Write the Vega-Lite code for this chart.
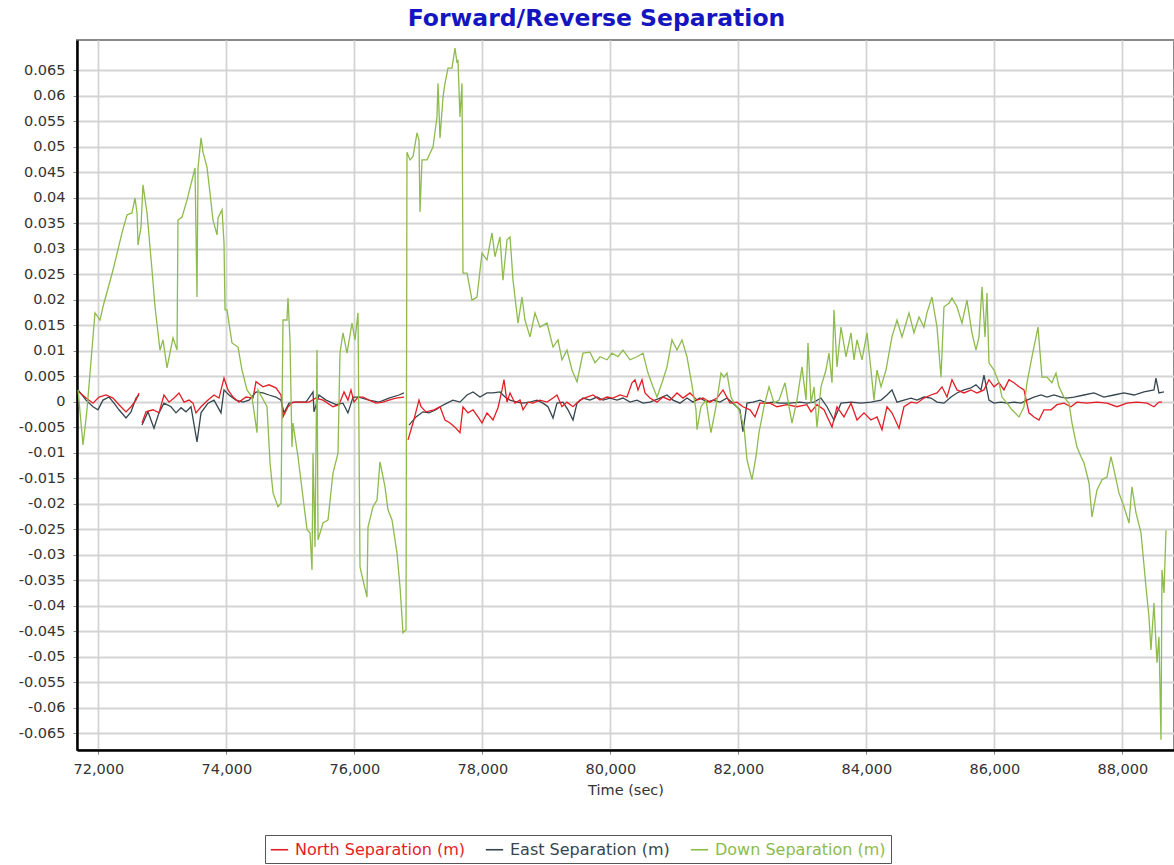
{
  "$schema": "https://vega.github.io/schema/vega-lite/v6.json",
  "width": 1097,
  "height": 710,
  "autosize": {"type": "none"},
  "padding": {"left": 77, "top": 40, "right": 0, "bottom": 115},
  "title": {"text": "Forward/Reverse Separation", "font": "DejaVu Sans", "fontSize": 23.5, "fontWeight": "bold", "color": "#1515c0", "anchor": "middle", "dx": -29, "offset": 10},
  "config": {
    "font": "DejaVu Sans",
    "view": {"stroke": "#8a8a8a", "strokeWidth": 2},
    "axis": {"gridColor": "#d4d4d4", "gridWidth": 1.8, "labelFont": "DejaVu Sans", "labelFontSize": 14.5, "labelColor": "#333333", "domainColor": "#000000", "domainWidth": 2.5, "tickColor": "#888888", "tickSize": 4, "titleFont": "DejaVu Sans", "titleFontSize": 14.5, "titleFontWeight": "normal", "titleColor": "#333333"}
  },
  "datasets": {
    "north": [
      {"t":71698,"v":0.0019,"seg":1},{"t":71808,"v":0.0007,"seg":1},{"t":71917,"v":-0.0003,"seg":1},{"t":72011,"v":0.0009,"seg":1},{"t":72120,"v":0.0013,"seg":1},{"t":72230,"v":0.0007,"seg":1},{"t":72323,"v":-0.0006,"seg":1},{"t":72433,"v":-0.0020,"seg":1},{"t":72511,"v":-0.0010,"seg":1},{"t":72589,"v":0.0003,"seg":1},{"t":72636,"v":0.0017,"seg":1},
      {"t":72683,"v":-0.0042,"seg":2},{"t":72745,"v":-0.0020,"seg":2},{"t":72855,"v":-0.0016,"seg":2},{"t":72948,"v":-0.0022,"seg":2},{"t":73026,"v":0.0013,"seg":2},{"t":73105,"v":-0.0001,"seg":2},{"t":73183,"v":0.0007,"seg":2},{"t":73261,"v":0.0017,"seg":2},{"t":73339,"v":-0.0001,"seg":2},{"t":73417,"v":0.0003,"seg":2},{"t":73480,"v":-0.0003,"seg":2},{"t":73526,"v":-0.0022,"seg":2},{"t":73605,"v":-0.0010,"seg":2},{"t":73714,"v":0.0003,"seg":2},{"t":73808,"v":0.0013,"seg":2},{"t":73886,"v":0.0007,"seg":2},{"t":73964,"v":0.0046,"seg":2},{"t":74026,"v":0.0023,"seg":2},{"t":74105,"v":0.0009,"seg":2},{"t":74198,"v":-0.0001,"seg":2},{"t":74308,"v":0.0009,"seg":2},{"t":74417,"v":0.0007,"seg":2},{"t":74464,"v":0.0039,"seg":2},{"t":74573,"v":0.0029,"seg":2},{"t":74667,"v":0.0033,"seg":2},{"t":74776,"v":0.0027,"seg":2},{"t":74855,"v":0.0013,"seg":2},{"t":74886,"v":-0.0030,"seg":2},{"t":74964,"v":-0.0010,"seg":2},{"t":75042,"v":-0.0001,"seg":2},{"t":75198,"v":-0.0001,"seg":2},{"t":75292,"v":-0.0001,"seg":2},{"t":75401,"v":0.0007,"seg":2},{"t":75511,"v":0.0003,"seg":2},{"t":75667,"v":-0.0010,"seg":2},{"t":75761,"v":-0.0006,"seg":2},{"t":75839,"v":0.0019,"seg":2},{"t":75901,"v":0.0003,"seg":2},{"t":75948,"v":0.0023,"seg":2},{"t":75995,"v":-0.0001,"seg":2},{"t":76058,"v":0.0009,"seg":2},{"t":76136,"v":0.0009,"seg":2},{"t":76230,"v":0.0003,"seg":2},{"t":76339,"v":-0.0003,"seg":2},{"t":76448,"v":-0.0001,"seg":2},{"t":76542,"v":0.0003,"seg":2},{"t":76651,"v":0.0007,"seg":2},{"t":76776,"v":0.0009,"seg":2},
      {"t":76839,"v":-0.0075,"seg":3},{"t":76917,"v":-0.0042,"seg":3},{"t":77011,"v":0.0003,"seg":3},{"t":77042,"v":-0.0010,"seg":3},{"t":77120,"v":-0.0020,"seg":3},{"t":77245,"v":-0.0016,"seg":3},{"t":77339,"v":-0.0010,"seg":3},{"t":77417,"v":-0.0036,"seg":3},{"t":77495,"v":-0.0042,"seg":3},{"t":77573,"v":-0.0050,"seg":3},{"t":77651,"v":-0.0061,"seg":3},{"t":77698,"v":-0.0010,"seg":3},{"t":77776,"v":-0.0022,"seg":3},{"t":77855,"v":-0.0016,"seg":3},{"t":77933,"v":-0.0030,"seg":3},{"t":77995,"v":-0.0042,"seg":3},{"t":78073,"v":-0.0022,"seg":3},{"t":78167,"v":-0.0036,"seg":3},{"t":78245,"v":-0.0012,"seg":3},{"t":78308,"v":0.0023,"seg":3},{"t":78339,"v":0.0043,"seg":3},{"t":78386,"v":-0.0001,"seg":3},{"t":78433,"v":0.0017,"seg":3},{"t":78511,"v":-0.0003,"seg":3},{"t":78589,"v":0.0003,"seg":3},{"t":78636,"v":-0.0016,"seg":3},{"t":78714,"v":-0.0001,"seg":3},{"t":78792,"v":-0.0003,"seg":3},{"t":78901,"v":0.0003,"seg":3},{"t":79011,"v":-0.0001,"seg":3},{"t":79105,"v":0.0007,"seg":3},{"t":79167,"v":0.0013,"seg":3},{"t":79245,"v":-0.0010,"seg":3},{"t":79323,"v":-0.0001,"seg":3},{"t":79417,"v":-0.0010,"seg":3},{"t":79526,"v":0.0003,"seg":3},{"t":79636,"v":0.0009,"seg":3},{"t":79730,"v":0.0013,"seg":3},{"t":79839,"v":0.0003,"seg":3},{"t":79948,"v":0.0009,"seg":3},{"t":80042,"v":0.0007,"seg":3},{"t":80151,"v":0.0013,"seg":3},{"t":80261,"v":0.0009,"seg":3},{"t":80339,"v":0.0037,"seg":3},{"t":80386,"v":0.0043,"seg":3},{"t":80433,"v":0.0023,"seg":3},{"t":80495,"v":0.0043,"seg":3},{"t":80542,"v":0.0017,"seg":3},{"t":80620,"v":0.0007,"seg":3},{"t":80730,"v":-0.0001,"seg":3},{"t":80823,"v":0.0009,"seg":3},{"t":80933,"v":0.0003,"seg":3},{"t":81042,"v":0.0017,"seg":3},{"t":81136,"v":0.0007,"seg":3},{"t":81245,"v":0.0017,"seg":3},{"t":81355,"v":0.0003,"seg":3},{"t":81448,"v":0.0007,"seg":3},{"t":81558,"v":-0.0001,"seg":3},{"t":81667,"v":0.0007,"seg":3},{"t":81761,"v":0.0023,"seg":3},{"t":81870,"v":-0.0003,"seg":3},{"t":81980,"v":-0.0001,"seg":3},{"t":82073,"v":-0.0010,"seg":3},{"t":82183,"v":-0.0016,"seg":3},{"t":82261,"v":-0.0030,"seg":3},{"t":82339,"v":-0.0003,"seg":3},{"t":82495,"v":-0.0003,"seg":3},{"t":82605,"v":-0.0010,"seg":3},{"t":82761,"v":-0.0006,"seg":3},{"t":82917,"v":-0.0010,"seg":3},{"t":83073,"v":-0.0006,"seg":3},{"t":83136,"v":-0.0020,"seg":3},{"t":83230,"v":-0.0006,"seg":3},{"t":83339,"v":-0.0016,"seg":3},{"t":83464,"v":-0.0050,"seg":3},{"t":83542,"v":-0.0010,"seg":3},{"t":83651,"v":-0.0030,"seg":3},{"t":83761,"v":-0.0003,"seg":3},{"t":83855,"v":-0.0036,"seg":3},{"t":83964,"v":-0.0022,"seg":3},{"t":84073,"v":-0.0036,"seg":3},{"t":84167,"v":-0.0030,"seg":3},{"t":84245,"v":-0.0055,"seg":3},{"t":84323,"v":-0.0010,"seg":3},{"t":84401,"v":-0.0022,"seg":3},{"t":84511,"v":-0.0052,"seg":3},{"t":84589,"v":-0.0010,"seg":3},{"t":84698,"v":-0.0001,"seg":3},{"t":84792,"v":-0.0003,"seg":3},{"t":84901,"v":0.0007,"seg":3},{"t":85011,"v":0.0013,"seg":3},{"t":85105,"v":0.0017,"seg":3},{"t":85183,"v":0.0029,"seg":3},{"t":85261,"v":0.0009,"seg":3},{"t":85339,"v":0.0043,"seg":3},{"t":85417,"v":0.0023,"seg":3},{"t":85526,"v":0.0017,"seg":3},{"t":85636,"v":0.0023,"seg":3},{"t":85730,"v":0.0017,"seg":3},{"t":85839,"v":0.0023,"seg":3},{"t":85917,"v":0.0043,"seg":3},{"t":85995,"v":0.0029,"seg":3},{"t":86073,"v":0.0037,"seg":3},{"t":86151,"v":0.0023,"seg":3},{"t":86230,"v":0.0043,"seg":3},{"t":86308,"v":0.0037,"seg":3},{"t":86386,"v":0.0029,"seg":3},{"t":86464,"v":0.0023,"seg":3},{"t":86542,"v":-0.0022,"seg":3},{"t":86620,"v":-0.0030,"seg":3},{"t":86698,"v":-0.0036,"seg":3},{"t":86776,"v":-0.0016,"seg":3},{"t":86886,"v":-0.0016,"seg":3},{"t":86980,"v":-0.0006,"seg":3},{"t":87089,"v":-0.0003,"seg":3},{"t":87198,"v":-0.0010,"seg":3},{"t":87292,"v":-0.0001,"seg":3},{"t":87448,"v":-0.0003,"seg":3},{"t":87605,"v":-0.0001,"seg":3},{"t":87761,"v":-0.0003,"seg":3},{"t":87917,"v":-0.0010,"seg":3},{"t":88073,"v":-0.0003,"seg":3},{"t":88230,"v":-0.0001,"seg":3},{"t":88386,"v":-0.0003,"seg":3},{"t":88495,"v":-0.0010,"seg":3},{"t":88573,"v":-0.0001,"seg":3},{"t":88620,"v":-0.0001,"seg":3}
    ],
    "east": [
      {"t":71683,"v":0.0023,"seg":1},{"t":71808,"v":0.0003,"seg":1},{"t":71917,"v":-0.0010,"seg":1},{"t":71995,"v":-0.0016,"seg":1},{"t":72073,"v":0.0003,"seg":1},{"t":72167,"v":0.0009,"seg":1},{"t":72245,"v":-0.0003,"seg":1},{"t":72323,"v":-0.0016,"seg":1},{"t":72433,"v":-0.0032,"seg":1},{"t":72511,"v":-0.0020,"seg":1},{"t":72589,"v":0.0007,"seg":1},{"t":72636,"v":0.0013,"seg":1},
      {"t":72683,"v":-0.0046,"seg":2},{"t":72776,"v":-0.0020,"seg":2},{"t":72870,"v":-0.0052,"seg":2},{"t":72948,"v":-0.0022,"seg":2},{"t":73026,"v":-0.0003,"seg":2},{"t":73136,"v":-0.0010,"seg":2},{"t":73214,"v":-0.0022,"seg":2},{"t":73292,"v":-0.0012,"seg":2},{"t":73370,"v":-0.0020,"seg":2},{"t":73448,"v":-0.0010,"seg":2},{"t":73542,"v":-0.0079,"seg":2},{"t":73605,"v":-0.0022,"seg":2},{"t":73714,"v":-0.0003,"seg":2},{"t":73808,"v":0.0003,"seg":2},{"t":73917,"v":-0.0022,"seg":2},{"t":73964,"v":0.0023,"seg":2},{"t":74042,"v":0.0013,"seg":2},{"t":74151,"v":0.0003,"seg":2},{"t":74261,"v":-0.0001,"seg":2},{"t":74355,"v":0.0003,"seg":2},{"t":74464,"v":0.0019,"seg":2},{"t":74573,"v":0.0017,"seg":2},{"t":74667,"v":0.0013,"seg":2},{"t":74776,"v":0.0009,"seg":2},{"t":74855,"v":0.0003,"seg":2},{"t":74901,"v":-0.0022,"seg":2},{"t":74980,"v":-0.0003,"seg":2},{"t":75089,"v":-0.0001,"seg":2},{"t":75245,"v":-0.0001,"seg":2},{"t":75355,"v":0.0019,"seg":2},{"t":75370,"v":-0.0020,"seg":2},{"t":75448,"v":0.0013,"seg":2},{"t":75558,"v":0.0003,"seg":2},{"t":75714,"v":-0.0006,"seg":2},{"t":75823,"v":-0.0003,"seg":2},{"t":75901,"v":-0.0022,"seg":2},{"t":75980,"v":0.0009,"seg":2},{"t":76073,"v":0.0009,"seg":2},{"t":76230,"v":0.0003,"seg":2},{"t":76386,"v":-0.0001,"seg":2},{"t":76542,"v":0.0007,"seg":2},{"t":76698,"v":0.0013,"seg":2},{"t":76776,"v":0.0017,"seg":2},
      {"t":76855,"v":-0.0046,"seg":3},{"t":76964,"v":-0.0030,"seg":3},{"t":77073,"v":-0.0020,"seg":3},{"t":77167,"v":-0.0022,"seg":3},{"t":77276,"v":-0.0016,"seg":3},{"t":77355,"v":-0.0009,"seg":3},{"t":77448,"v":-0.0003,"seg":3},{"t":77542,"v":0.0003,"seg":3},{"t":77651,"v":-0.0001,"seg":3},{"t":77761,"v":0.0013,"seg":3},{"t":77855,"v":0.0019,"seg":3},{"t":77964,"v":0.0009,"seg":3},{"t":78073,"v":0.0017,"seg":3},{"t":78167,"v":0.0017,"seg":3},{"t":78276,"v":0.0019,"seg":3},{"t":78355,"v":0.0009,"seg":3},{"t":78433,"v":0.0003,"seg":3},{"t":78542,"v":-0.0001,"seg":3},{"t":78636,"v":-0.0003,"seg":3},{"t":78745,"v":-0.0001,"seg":3},{"t":78855,"v":0.0003,"seg":3},{"t":78948,"v":-0.0003,"seg":3},{"t":79026,"v":-0.0010,"seg":3},{"t":79105,"v":-0.0032,"seg":3},{"t":79167,"v":-0.0003,"seg":3},{"t":79261,"v":-0.0001,"seg":3},{"t":79339,"v":-0.0016,"seg":3},{"t":79417,"v":-0.0036,"seg":3},{"t":79480,"v":-0.0003,"seg":3},{"t":79573,"v":0.0007,"seg":3},{"t":79683,"v":0.0003,"seg":3},{"t":79792,"v":0.0009,"seg":3},{"t":79886,"v":0.0003,"seg":3},{"t":79995,"v":0.0007,"seg":3},{"t":80105,"v":0.0003,"seg":3},{"t":80198,"v":0.0007,"seg":3},{"t":80308,"v":-0.0001,"seg":3},{"t":80417,"v":0.0003,"seg":3},{"t":80511,"v":-0.0003,"seg":3},{"t":80620,"v":-0.0001,"seg":3},{"t":80776,"v":0.0007,"seg":3},{"t":80886,"v":0.0013,"seg":3},{"t":80980,"v":0.0003,"seg":3},{"t":81089,"v":-0.0003,"seg":3},{"t":81198,"v":0.0007,"seg":3},{"t":81292,"v":-0.0001,"seg":3},{"t":81401,"v":0.0007,"seg":3},{"t":81511,"v":-0.0001,"seg":3},{"t":81605,"v":0.0003,"seg":3},{"t":81714,"v":-0.0001,"seg":3},{"t":81823,"v":0.0007,"seg":3},{"t":81917,"v":-0.0003,"seg":3},{"t":82026,"v":-0.0016,"seg":3},{"t":82073,"v":-0.0059,"seg":3},{"t":82136,"v":-0.0003,"seg":3},{"t":82230,"v":-0.0001,"seg":3},{"t":82339,"v":0.0003,"seg":3},{"t":82448,"v":-0.0003,"seg":3},{"t":82542,"v":-0.0001,"seg":3},{"t":82651,"v":-0.0003,"seg":3},{"t":82808,"v":-0.0003,"seg":3},{"t":82964,"v":-0.0001,"seg":3},{"t":83073,"v":-0.0003,"seg":3},{"t":83183,"v":-0.0001,"seg":3},{"t":83292,"v":0.0007,"seg":3},{"t":83386,"v":-0.0010,"seg":3},{"t":83495,"v":-0.0036,"seg":3},{"t":83605,"v":-0.0003,"seg":3},{"t":83761,"v":-0.0001,"seg":3},{"t":83917,"v":-0.0003,"seg":3},{"t":84073,"v":-0.0001,"seg":3},{"t":84230,"v":0.0003,"seg":3},{"t":84323,"v":0.0013,"seg":3},{"t":84401,"v":0.0023,"seg":3},{"t":84480,"v":-0.0001,"seg":3},{"t":84589,"v":0.0003,"seg":3},{"t":84698,"v":0.0007,"seg":3},{"t":84792,"v":0.0003,"seg":3},{"t":84901,"v":0.0009,"seg":3},{"t":85011,"v":0.0007,"seg":3},{"t":85105,"v":-0.0001,"seg":3},{"t":85214,"v":-0.0003,"seg":3},{"t":85323,"v":0.0009,"seg":3},{"t":85417,"v":0.0017,"seg":3},{"t":85526,"v":0.0023,"seg":3},{"t":85636,"v":0.0027,"seg":3},{"t":85714,"v":0.0033,"seg":3},{"t":85792,"v":0.0023,"seg":3},{"t":85839,"v":0.0052,"seg":3},{"t":85917,"v":0.0003,"seg":3},{"t":85995,"v":-0.0003,"seg":3},{"t":86105,"v":-0.0001,"seg":3},{"t":86198,"v":-0.0003,"seg":3},{"t":86308,"v":-0.0001,"seg":3},{"t":86417,"v":-0.0003,"seg":3},{"t":86511,"v":0.0003,"seg":3},{"t":86620,"v":0.0009,"seg":3},{"t":86730,"v":0.0013,"seg":3},{"t":86823,"v":0.0009,"seg":3},{"t":86933,"v":0.0013,"seg":3},{"t":87042,"v":0.0009,"seg":3},{"t":87136,"v":0.0007,"seg":3},{"t":87245,"v":0.0009,"seg":3},{"t":87401,"v":0.0013,"seg":3},{"t":87558,"v":0.0017,"seg":3},{"t":87714,"v":0.0009,"seg":3},{"t":87870,"v":0.0013,"seg":3},{"t":88026,"v":0.0017,"seg":3},{"t":88183,"v":0.0013,"seg":3},{"t":88339,"v":0.0019,"seg":3},{"t":88495,"v":0.0023,"seg":3},{"t":88526,"v":0.0046,"seg":3},{"t":88573,"v":0.0017,"seg":3},{"t":88651,"v":0.0019,"seg":3}
    ],
    "down": [
      {"t":71683,"v":0.0023},{"t":71761,"v":-0.0085},{"t":71823,"v":-0.0016},{"t":71948,"v":0.0174},{"t":72026,"v":0.0160},{"t":72073,"v":0.0186},{"t":72230,"v":0.0258},{"t":72370,"v":0.0331},{"t":72448,"v":0.0366},{"t":72526,"v":0.0370},{"t":72573,"v":0.0399},{"t":72605,"v":0.0370},{"t":72620,"v":0.0307},{"t":72667,"v":0.0342},{"t":72698,"v":0.0425},{"t":72761,"v":0.0370},{"t":72839,"v":0.0258},{"t":72886,"v":0.0186},{"t":72964,"v":0.0101},{"t":73011,"v":0.0121},{"t":73073,"v":0.0066},{"t":73167,"v":0.0125},{"t":73230,"v":0.0101},{"t":73245,"v":0.0356},{"t":73308,"v":0.0362},{"t":73386,"v":0.0395},{"t":73511,"v":0.0458},{"t":73542,"v":0.0205},{"t":73558,"v":0.0458},{"t":73605,"v":0.0517},{"t":73636,"v":0.0489},{"t":73698,"v":0.0460},{"t":73745,"v":0.0409},{"t":73792,"v":0.0356},{"t":73855,"v":0.0327},{"t":73870,"v":0.0360},{"t":73933,"v":0.0376},{"t":73964,"v":0.0311},{"t":73980,"v":0.0180},
      {"t":74011,"v":0.0180},{"t":74089,"v":0.0115},{"t":74183,"v":0.0107},{"t":74245,"v":0.0062},{"t":74323,"v":0.0023},{"t":74401,"v":0.0009},{"t":74480,"v":-0.0061},{"t":74495,"v":0.0023},{"t":74636,"v":-0.0010},{"t":74683,"v":-0.0120},{"t":74730,"v":-0.0179},{"t":74808,"v":-0.0206},{"t":74855,"v":-0.0199},{"t":74886,"v":0.0160},{"t":74948,"v":0.0160},{"t":74964,"v":0.0203},{"t":74995,"v":0.0121},{"t":75026,"v":-0.0089},{"t":75042,"v":-0.0042},{"t":75120,"v":-0.0108},{"t":75198,"v":-0.0187},{"t":75261,"v":-0.0251},{"t":75308,"v":-0.0257},{"t":75339,"v":-0.0330},{"t":75355,"v":-0.0101},{"t":75386,"v":-0.0285},{"t":75417,"v":0.0101},{"t":75433,"v":-0.0271},{"t":75511,"v":-0.0238},{"t":75589,"v":-0.0232},{"t":75667,"v":-0.0140},{"t":75745,"v":-0.0101},{"t":75776,"v":0.0095},{"t":75823,"v":0.0135},{"t":75886,"v":0.0095},{"t":75964,"v":0.0154},{"t":76011,"v":0.0121},{"t":76058,"v":0.0174},{"t":76089,"v":-0.0324},{"t":76136,"v":-0.0350},{"t":76198,"v":-0.0383},{"t":76214,"v":-0.0246},{"t":76292,"v":-0.0206},{"t":76355,"v":-0.0193},{"t":76401,"v":-0.0118},{"t":76480,"v":-0.0167},{"t":76526,"v":-0.0212},{"t":76589,"v":-0.0232},{"t":76667,"v":-0.0297},{"t":76714,"v":-0.0363},{"t":76761,"v":-0.0453},{"t":76808,"v":-0.0447},
      {"t":76823,"v":0.0489},{"t":76870,"v":0.0474},{"t":76917,"v":0.0480},{"t":76980,"v":0.0527},{"t":77011,"v":0.0513},{"t":77026,"v":0.0372},{"t":77058,"v":0.0474},{"t":77136,"v":0.0474},{"t":77183,"v":0.0487},{"t":77230,"v":0.0499},{"t":77292,"v":0.0558},{"t":77308,"v":0.0624},{"t":77339,"v":0.0517},{"t":77386,"v":0.0597},{"t":77417,"v":0.0624},{"t":77464,"v":0.0654},{"t":77526,"v":0.0654},{"t":77573,"v":0.0693},{"t":77605,"v":0.0664},{"t":77620,"v":0.0670},{"t":77651,"v":0.0558},{"t":77683,"v":0.0624},{"t":77698,"v":0.0252},{"t":77761,"v":0.0252},{"t":77839,"v":0.0199},{"t":77917,"v":0.0205},{"t":77995,"v":0.0291},{"t":78073,"v":0.0278},{"t":78151,"v":0.0331},{"t":78198,"v":0.0284},{"t":78276,"v":0.0323},{"t":78323,"v":0.0238},{"t":78386,"v":0.0317},{"t":78433,"v":0.0323},{"t":78480,"v":0.0238},{"t":78558,"v":0.0154},{"t":78620,"v":0.0205},{"t":78667,"v":0.0160},{"t":78745,"v":0.0127},{"t":78823,"v":0.0174},{"t":78901,"v":0.0146},{"t":79011,"v":0.0154},{"t":79105,"v":0.0107},{"t":79183,"v":0.0121},{"t":79245,"v":0.0082},{"t":79323,"v":0.0101},{"t":79401,"v":0.0062},{"t":79480,"v":0.0039},{"t":79573,"v":0.0095},{"t":79683,"v":0.0097},{"t":79761,"v":0.0076},{"t":79839,"v":0.0088},{"t":79948,"v":0.0082},{"t":80026,"v":0.0095},{"t":80120,"v":0.0088},{"t":80198,"v":0.0101},{"t":80308,"v":0.0082},{"t":80417,"v":0.0088},{"t":80511,"v":0.0095},{"t":80589,"v":0.0056},{"t":80667,"v":0.0029},{"t":80730,"v":0.0009},{"t":80808,"v":0.0037},{"t":80886,"v":0.0068},{"t":80964,"v":0.0121},{"t":81042,"v":0.0101},{"t":81120,"v":0.0121},{"t":81198,"v":0.0088},
      {"t":81261,"v":0.0043},{"t":81339,"v":-0.0016},{"t":81355,"v":-0.0055},{"t":81417,"v":-0.0010},{"t":81495,"v":0.0003},{"t":81573,"v":-0.0061},{"t":81651,"v":-0.0010},{"t":81730,"v":0.0056},{"t":81776,"v":0.0048},{"t":81823,"v":0.0056},{"t":81886,"v":0.0009},{"t":81933,"v":-0.0003},{"t":82011,"v":-0.0016},{"t":82089,"v":-0.0050},{"t":82136,"v":-0.0114},{"t":82214,"v":-0.0153},{"t":82276,"v":-0.0108},{"t":82323,"v":-0.0061},{"t":82401,"v":-0.0010},{"t":82480,"v":0.0029},{"t":82558,"v":-0.0003},{"t":82636,"v":0.0003},{"t":82730,"v":0.0037},{"t":82792,"v":-0.0010},{"t":82839,"v":-0.0042},{"t":82917,"v":0.0003},{"t":82995,"v":0.0068},{"t":83058,"v":0.0003},{"t":83089,"v":0.0115},{"t":83136,"v":-0.0003},{"t":83183,"v":0.0029},{"t":83230,"v":-0.0050},{"t":83292,"v":0.0029},{"t":83370,"v":0.0062},{"t":83417,"v":0.0095},{"t":83464,"v":0.0037},{"t":83495,"v":0.0180},{"t":83542,"v":0.0068},{"t":83605,"v":0.0146},{"t":83683,"v":0.0088},{"t":83761,"v":0.0135},{"t":83808,"v":0.0082},{"t":83855,"v":0.0121},{"t":83933,"v":0.0082},{"t":84011,"v":0.0135},{"t":84073,"v":0.0062},{"t":84120,"v":0.0003},{"t":84167,"v":0.0062},{"t":84230,"v":0.0029},{"t":84308,"v":0.0062},{"t":84355,"v":0.0095},{"t":84401,"v":0.0127},{"t":84480,"v":0.0160},{"t":84558,"v":0.0127},{"t":84667,"v":0.0174},{"t":84745,"v":0.0135},{"t":84823,"v":0.0166},{"t":84901,"v":0.0146},{"t":84948,"v":0.0174},{"t":85026,"v":0.0205},{"t":85105,"v":0.0146},{"t":85167,"v":0.0048},{"t":85214,"v":0.0186},{"t":85292,"v":0.0193},{"t":85339,"v":0.0203},{"t":85417,"v":0.0186},{"t":85495,"v":0.0154},{"t":85573,"v":0.0199},{"t":85651,"v":0.0135},{"t":85714,"v":0.0101},{"t":85761,"v":0.0127},{"t":85808,"v":0.0225},{"t":85855,"v":0.0127},{"t":85886,"v":0.0213},{"t":85917,"v":0.0076},{"t":85995,"v":0.0062},{"t":86073,"v":0.0037},{"t":86120,"v":0.0009},{"t":86198,"v":-0.0003},{"t":86276,"v":-0.0016},{"t":86386,"v":-0.0030},{"t":86464,"v":-0.0010},{"t":86511,"v":0.0037},{"t":86589,"v":0.0088},{"t":86683,"v":0.0146},{"t":86745,"v":0.0048},{"t":86823,"v":0.0048},{"t":86901,"v":0.0037},{"t":86964,"v":0.0056},{"t":87011,"v":0.0029},{"t":87089,"v":0.0009},{"t":87167,"v":-0.0003},{"t":87214,"v":-0.0042},{"t":87292,"v":-0.0089},{"t":87355,"v":-0.0108},{"t":87401,"v":-0.0120},{"t":87480,"v":-0.0159},{"t":87526,"v":-0.0226},{"t":87605,"v":-0.0173},{"t":87683,"v":-0.0153},{"t":87761,"v":-0.0148},{"t":87823,"v":-0.0108},{"t":87870,"v":-0.0134},{"t":87948,"v":-0.0179},{"t":88026,"v":-0.0206},{"t":88105,"v":-0.0238},{"t":88151,"v":-0.0167},{"t":88214,"v":-0.0218},{"t":88292,"v":-0.0257},{"t":88370,"v":-0.0363},{"t":88417,"v":-0.0422},{"t":88448,"v":-0.0487},{"t":88495,"v":-0.0395},{"t":88542,"v":-0.0512},{"t":88573,"v":-0.0461},{"t":88605,"v":-0.0663},{"t":88620,"v":-0.0330},{"t":88651,"v":-0.0375},{"t":88683,"v":-0.0252}
    ]
  },
  "encoding": {
    "x": {"field": "t", "type": "quantitative", "scale": {"domain": [71667, 88808], "nice": false, "zero": false},
      "axis": {"title": "Time (sec)", "values": [72000, 74000, 76000, 78000, 80000, 82000, 84000, 86000, 88000], "format": ",d", "labelPadding": 8, "titlePadding": 8}},
    "y": {"field": "v", "type": "quantitative", "scale": {"domain": [-0.0683, 0.0709], "nice": false, "zero": false},
      "axis": {"title": null, "values": [-0.065, -0.06, -0.055, -0.05, -0.045, -0.04, -0.035, -0.03, -0.025, -0.02, -0.015, -0.01, -0.005, 0, 0.005, 0.01, 0.015, 0.02, 0.025, 0.03, 0.035, 0.04, 0.045, 0.05, 0.055, 0.06, 0.065],
        "labelExpr": "'' + round(datum.value * 1000) / 1000", "labelPadding": 8}}
  },
  "layer": [
    {"data": {"name": "east"}, "mark": {"type": "line", "clip": true, "strokeWidth": 1.3},
     "encoding": {"detail": {"field": "seg"},
       "color": {"datum": "East Separation (m)", "scale": {"domain": ["North Separation (m)", "East Separation (m)", "Down Separation (m)"], "range": ["#e41e26", "#36464f", "#8dbb4c"]},
         "legend": {"title": null, "orient": "none", "legendX": 188, "legendY": 795, "direction": "horizontal", "symbolType": "stroke", "symbolSize": 300, "symbolStrokeWidth": 1.6, "labelFont": "DejaVu Sans", "labelFontSize": 16, "labelLimit": 400, "strokeColor": "#555555", "fillColor": "#ffffff", "padding": 5, "columnPadding": 17, "labelOffset": 6,
           "encode": {"labels": {"update": {"fill": {"signal": "scale('color', datum.value)"}}}}}}}},
    {"data": {"name": "north"}, "mark": {"type": "line", "clip": true, "strokeWidth": 1.3},
     "encoding": {"detail": {"field": "seg"}, "color": {"datum": "North Separation (m)"}}},
    {"data": {"name": "down"}, "mark": {"type": "line", "clip": true, "strokeWidth": 1.3},
     "encoding": {"color": {"datum": "Down Separation (m)"}}}
  ]
}
